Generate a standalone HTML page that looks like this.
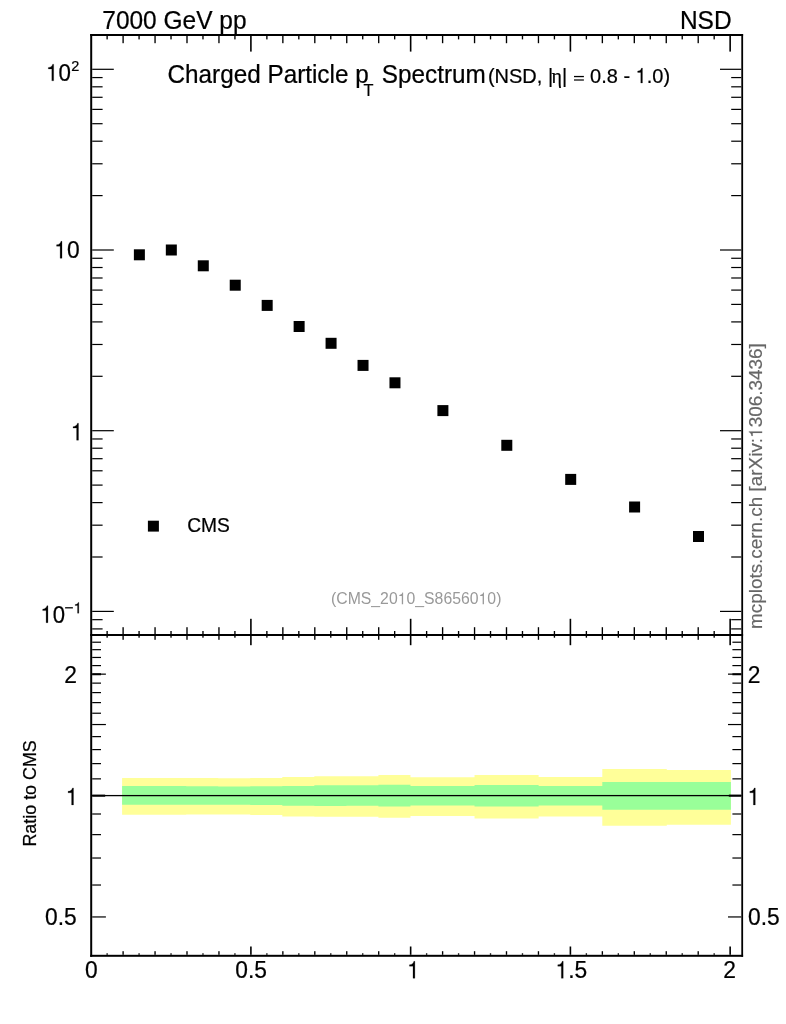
<!DOCTYPE html>
<html><head><meta charset="utf-8"><title>Charged Particle pT Spectrum</title>
<style>
html,body{margin:0;padding:0;background:#fff;}
body{width:786px;height:1024px;overflow:hidden;font-family:"Liberation Sans",sans-serif;}
svg{display:block;will-change:transform;}
svg text{font-family:"Liberation Sans",sans-serif;font-kerning:none;}
</style></head><body>
<svg width="786" height="1024" viewBox="0 0 786 1024">
<rect x="0" y="0" width="786" height="1024" fill="#ffffff"/>
<path d="M122.10,777.90 L154.14,777.90 L154.14,777.90 L186.18,777.90 L186.18,778.00 L218.22,778.00 L218.22,778.20 L250.26,778.20 L250.26,777.90 L282.30,777.90 L282.30,776.90 L314.34,776.90 L314.34,776.20 L346.38,776.20 L346.38,776.20 L378.42,776.20 L378.42,775.10 L410.46,775.10 L410.46,777.20 L474.54,777.20 L474.54,775.00 L538.62,775.00 L538.62,777.10 L602.30,777.10 L602.30,769.10 L666.78,769.10 L666.78,770.10 L730.90,770.10 L730.90,824.80 L666.78,824.80 L666.78,825.70 L602.30,825.70 L602.30,816.50 L538.62,816.50 L538.62,818.50 L474.54,818.50 L474.54,815.90 L410.46,815.90 L410.46,817.80 L378.42,817.80 L378.42,816.70 L346.38,816.70 L346.38,816.80 L314.34,816.80 L314.34,816.60 L282.30,816.60 L282.30,815.10 L250.26,815.10 L250.26,814.60 L218.22,814.60 L218.22,814.60 L186.18,814.60 L186.18,814.70 L154.14,814.70 L154.14,814.70 L122.10,814.70Z" fill="#ffff99"/>
<path d="M122.10,786.00 L154.14,786.00 L154.14,786.00 L186.18,786.00 L186.18,786.20 L218.22,786.20 L218.22,786.50 L250.26,786.50 L250.26,786.20 L282.30,786.20 L282.30,786.00 L314.34,786.00 L314.34,785.20 L346.38,785.20 L346.38,785.20 L378.42,785.20 L378.42,784.80 L410.46,784.80 L410.46,786.00 L474.54,786.00 L474.54,784.90 L538.62,784.90 L538.62,786.10 L602.30,786.10 L602.30,781.90 L666.78,781.90 L666.78,781.90 L730.90,781.90 L730.90,809.80 L666.78,809.80 L666.78,809.80 L602.30,809.80 L602.30,805.60 L538.62,805.60 L538.62,806.50 L474.54,806.50 L474.54,805.40 L410.46,805.40 L410.46,806.60 L378.42,806.60 L378.42,805.80 L346.38,805.80 L346.38,805.90 L314.34,805.90 L314.34,805.70 L282.30,805.70 L282.30,805.00 L250.26,805.00 L250.26,804.70 L218.22,804.70 L218.22,804.70 L186.18,804.70 L186.18,804.70 L154.14,804.70 L154.14,804.70 L122.10,804.70Z" fill="#99ff99"/>
<rect x="92.20" y="794.95" width="649.10" height="1.30" fill="#000"/>
<rect x="90.20" y="34.00" width="2.00" height="922.80" fill="#000"/>
<rect x="741.30" y="34.00" width="1.80" height="922.80" fill="#000"/>
<rect x="90.20" y="34.00" width="652.90" height="2.00" fill="#000"/>
<rect x="90.20" y="634.00" width="652.90" height="2.00" fill="#000"/>
<rect x="90.20" y="954.80" width="652.90" height="2.00" fill="#000"/>
<rect x="106.45" y="36.00" width="1.35" height="3.40" fill="#000"/>
<rect x="106.45" y="631.00" width="1.35" height="3.00" fill="#000"/>
<rect x="106.45" y="636.00" width="1.35" height="1.70" fill="#000"/>
<rect x="106.45" y="953.30" width="1.35" height="1.50" fill="#000"/>
<rect x="122.43" y="36.00" width="1.35" height="7.20" fill="#000"/>
<rect x="122.43" y="627.20" width="1.35" height="6.80" fill="#000"/>
<rect x="122.43" y="636.00" width="1.35" height="3.80" fill="#000"/>
<rect x="122.43" y="951.20" width="1.35" height="3.60" fill="#000"/>
<rect x="138.40" y="36.00" width="1.35" height="3.40" fill="#000"/>
<rect x="138.40" y="631.00" width="1.35" height="3.00" fill="#000"/>
<rect x="138.40" y="636.00" width="1.35" height="1.70" fill="#000"/>
<rect x="138.40" y="953.30" width="1.35" height="1.50" fill="#000"/>
<rect x="154.38" y="36.00" width="1.35" height="7.20" fill="#000"/>
<rect x="154.38" y="627.20" width="1.35" height="6.80" fill="#000"/>
<rect x="154.38" y="636.00" width="1.35" height="3.80" fill="#000"/>
<rect x="154.38" y="951.20" width="1.35" height="3.60" fill="#000"/>
<rect x="170.35" y="36.00" width="1.35" height="3.40" fill="#000"/>
<rect x="170.35" y="631.00" width="1.35" height="3.00" fill="#000"/>
<rect x="170.35" y="636.00" width="1.35" height="1.70" fill="#000"/>
<rect x="170.35" y="953.30" width="1.35" height="1.50" fill="#000"/>
<rect x="186.32" y="36.00" width="1.35" height="7.20" fill="#000"/>
<rect x="186.32" y="627.20" width="1.35" height="6.80" fill="#000"/>
<rect x="186.32" y="636.00" width="1.35" height="3.80" fill="#000"/>
<rect x="186.32" y="951.20" width="1.35" height="3.60" fill="#000"/>
<rect x="202.30" y="36.00" width="1.35" height="3.40" fill="#000"/>
<rect x="202.30" y="631.00" width="1.35" height="3.00" fill="#000"/>
<rect x="202.30" y="636.00" width="1.35" height="1.70" fill="#000"/>
<rect x="202.30" y="953.30" width="1.35" height="1.50" fill="#000"/>
<rect x="218.28" y="36.00" width="1.35" height="7.20" fill="#000"/>
<rect x="218.28" y="627.20" width="1.35" height="6.80" fill="#000"/>
<rect x="218.28" y="636.00" width="1.35" height="3.80" fill="#000"/>
<rect x="218.28" y="951.20" width="1.35" height="3.60" fill="#000"/>
<rect x="234.25" y="36.00" width="1.35" height="3.40" fill="#000"/>
<rect x="234.25" y="631.00" width="1.35" height="3.00" fill="#000"/>
<rect x="234.25" y="636.00" width="1.35" height="1.70" fill="#000"/>
<rect x="234.25" y="953.30" width="1.35" height="1.50" fill="#000"/>
<rect x="250.10" y="36.00" width="1.60" height="15.60" fill="#000"/>
<rect x="250.10" y="618.80" width="1.60" height="15.20" fill="#000"/>
<rect x="250.10" y="636.00" width="1.60" height="9.20" fill="#000"/>
<rect x="250.10" y="946.50" width="1.60" height="8.30" fill="#000"/>
<rect x="266.20" y="36.00" width="1.35" height="3.40" fill="#000"/>
<rect x="266.20" y="631.00" width="1.35" height="3.00" fill="#000"/>
<rect x="266.20" y="636.00" width="1.35" height="1.70" fill="#000"/>
<rect x="266.20" y="953.30" width="1.35" height="1.50" fill="#000"/>
<rect x="282.18" y="36.00" width="1.35" height="7.20" fill="#000"/>
<rect x="282.18" y="627.20" width="1.35" height="6.80" fill="#000"/>
<rect x="282.18" y="636.00" width="1.35" height="3.80" fill="#000"/>
<rect x="282.18" y="951.20" width="1.35" height="3.60" fill="#000"/>
<rect x="298.15" y="36.00" width="1.35" height="3.40" fill="#000"/>
<rect x="298.15" y="631.00" width="1.35" height="3.00" fill="#000"/>
<rect x="298.15" y="636.00" width="1.35" height="1.70" fill="#000"/>
<rect x="298.15" y="953.30" width="1.35" height="1.50" fill="#000"/>
<rect x="314.13" y="36.00" width="1.35" height="7.20" fill="#000"/>
<rect x="314.13" y="627.20" width="1.35" height="6.80" fill="#000"/>
<rect x="314.13" y="636.00" width="1.35" height="3.80" fill="#000"/>
<rect x="314.13" y="951.20" width="1.35" height="3.60" fill="#000"/>
<rect x="330.10" y="36.00" width="1.35" height="3.40" fill="#000"/>
<rect x="330.10" y="631.00" width="1.35" height="3.00" fill="#000"/>
<rect x="330.10" y="636.00" width="1.35" height="1.70" fill="#000"/>
<rect x="330.10" y="953.30" width="1.35" height="1.50" fill="#000"/>
<rect x="346.07" y="36.00" width="1.35" height="7.20" fill="#000"/>
<rect x="346.07" y="627.20" width="1.35" height="6.80" fill="#000"/>
<rect x="346.07" y="636.00" width="1.35" height="3.80" fill="#000"/>
<rect x="346.07" y="951.20" width="1.35" height="3.60" fill="#000"/>
<rect x="362.05" y="36.00" width="1.35" height="3.40" fill="#000"/>
<rect x="362.05" y="631.00" width="1.35" height="3.00" fill="#000"/>
<rect x="362.05" y="636.00" width="1.35" height="1.70" fill="#000"/>
<rect x="362.05" y="953.30" width="1.35" height="1.50" fill="#000"/>
<rect x="378.03" y="36.00" width="1.35" height="7.20" fill="#000"/>
<rect x="378.03" y="627.20" width="1.35" height="6.80" fill="#000"/>
<rect x="378.03" y="636.00" width="1.35" height="3.80" fill="#000"/>
<rect x="378.03" y="951.20" width="1.35" height="3.60" fill="#000"/>
<rect x="394.00" y="36.00" width="1.35" height="3.40" fill="#000"/>
<rect x="394.00" y="631.00" width="1.35" height="3.00" fill="#000"/>
<rect x="394.00" y="636.00" width="1.35" height="1.70" fill="#000"/>
<rect x="394.00" y="953.30" width="1.35" height="1.50" fill="#000"/>
<rect x="409.85" y="36.00" width="1.60" height="15.60" fill="#000"/>
<rect x="409.85" y="618.80" width="1.60" height="15.20" fill="#000"/>
<rect x="409.85" y="636.00" width="1.60" height="9.20" fill="#000"/>
<rect x="409.85" y="946.50" width="1.60" height="8.30" fill="#000"/>
<rect x="425.95" y="36.00" width="1.35" height="3.40" fill="#000"/>
<rect x="425.95" y="631.00" width="1.35" height="3.00" fill="#000"/>
<rect x="425.95" y="636.00" width="1.35" height="1.70" fill="#000"/>
<rect x="425.95" y="953.30" width="1.35" height="1.50" fill="#000"/>
<rect x="441.93" y="36.00" width="1.35" height="7.20" fill="#000"/>
<rect x="441.93" y="627.20" width="1.35" height="6.80" fill="#000"/>
<rect x="441.93" y="636.00" width="1.35" height="3.80" fill="#000"/>
<rect x="441.93" y="951.20" width="1.35" height="3.60" fill="#000"/>
<rect x="457.90" y="36.00" width="1.35" height="3.40" fill="#000"/>
<rect x="457.90" y="631.00" width="1.35" height="3.00" fill="#000"/>
<rect x="457.90" y="636.00" width="1.35" height="1.70" fill="#000"/>
<rect x="457.90" y="953.30" width="1.35" height="1.50" fill="#000"/>
<rect x="473.88" y="36.00" width="1.35" height="7.20" fill="#000"/>
<rect x="473.88" y="627.20" width="1.35" height="6.80" fill="#000"/>
<rect x="473.88" y="636.00" width="1.35" height="3.80" fill="#000"/>
<rect x="473.88" y="951.20" width="1.35" height="3.60" fill="#000"/>
<rect x="489.85" y="36.00" width="1.35" height="3.40" fill="#000"/>
<rect x="489.85" y="631.00" width="1.35" height="3.00" fill="#000"/>
<rect x="489.85" y="636.00" width="1.35" height="1.70" fill="#000"/>
<rect x="489.85" y="953.30" width="1.35" height="1.50" fill="#000"/>
<rect x="505.82" y="36.00" width="1.35" height="7.20" fill="#000"/>
<rect x="505.82" y="627.20" width="1.35" height="6.80" fill="#000"/>
<rect x="505.82" y="636.00" width="1.35" height="3.80" fill="#000"/>
<rect x="505.82" y="951.20" width="1.35" height="3.60" fill="#000"/>
<rect x="521.80" y="36.00" width="1.35" height="3.40" fill="#000"/>
<rect x="521.80" y="631.00" width="1.35" height="3.00" fill="#000"/>
<rect x="521.80" y="636.00" width="1.35" height="1.70" fill="#000"/>
<rect x="521.80" y="953.30" width="1.35" height="1.50" fill="#000"/>
<rect x="537.78" y="36.00" width="1.35" height="7.20" fill="#000"/>
<rect x="537.78" y="627.20" width="1.35" height="6.80" fill="#000"/>
<rect x="537.78" y="636.00" width="1.35" height="3.80" fill="#000"/>
<rect x="537.78" y="951.20" width="1.35" height="3.60" fill="#000"/>
<rect x="553.75" y="36.00" width="1.35" height="3.40" fill="#000"/>
<rect x="553.75" y="631.00" width="1.35" height="3.00" fill="#000"/>
<rect x="553.75" y="636.00" width="1.35" height="1.70" fill="#000"/>
<rect x="553.75" y="953.30" width="1.35" height="1.50" fill="#000"/>
<rect x="569.60" y="36.00" width="1.60" height="15.60" fill="#000"/>
<rect x="569.60" y="618.80" width="1.60" height="15.20" fill="#000"/>
<rect x="569.60" y="636.00" width="1.60" height="9.20" fill="#000"/>
<rect x="569.60" y="946.50" width="1.60" height="8.30" fill="#000"/>
<rect x="585.70" y="36.00" width="1.35" height="3.40" fill="#000"/>
<rect x="585.70" y="631.00" width="1.35" height="3.00" fill="#000"/>
<rect x="585.70" y="636.00" width="1.35" height="1.70" fill="#000"/>
<rect x="585.70" y="953.30" width="1.35" height="1.50" fill="#000"/>
<rect x="601.68" y="36.00" width="1.35" height="7.20" fill="#000"/>
<rect x="601.68" y="627.20" width="1.35" height="6.80" fill="#000"/>
<rect x="601.68" y="636.00" width="1.35" height="3.80" fill="#000"/>
<rect x="601.68" y="951.20" width="1.35" height="3.60" fill="#000"/>
<rect x="617.65" y="36.00" width="1.35" height="3.40" fill="#000"/>
<rect x="617.65" y="631.00" width="1.35" height="3.00" fill="#000"/>
<rect x="617.65" y="636.00" width="1.35" height="1.70" fill="#000"/>
<rect x="617.65" y="953.30" width="1.35" height="1.50" fill="#000"/>
<rect x="633.63" y="36.00" width="1.35" height="7.20" fill="#000"/>
<rect x="633.63" y="627.20" width="1.35" height="6.80" fill="#000"/>
<rect x="633.63" y="636.00" width="1.35" height="3.80" fill="#000"/>
<rect x="633.63" y="951.20" width="1.35" height="3.60" fill="#000"/>
<rect x="649.60" y="36.00" width="1.35" height="3.40" fill="#000"/>
<rect x="649.60" y="631.00" width="1.35" height="3.00" fill="#000"/>
<rect x="649.60" y="636.00" width="1.35" height="1.70" fill="#000"/>
<rect x="649.60" y="953.30" width="1.35" height="1.50" fill="#000"/>
<rect x="665.58" y="36.00" width="1.35" height="7.20" fill="#000"/>
<rect x="665.58" y="627.20" width="1.35" height="6.80" fill="#000"/>
<rect x="665.58" y="636.00" width="1.35" height="3.80" fill="#000"/>
<rect x="665.58" y="951.20" width="1.35" height="3.60" fill="#000"/>
<rect x="681.55" y="36.00" width="1.35" height="3.40" fill="#000"/>
<rect x="681.55" y="631.00" width="1.35" height="3.00" fill="#000"/>
<rect x="681.55" y="636.00" width="1.35" height="1.70" fill="#000"/>
<rect x="681.55" y="953.30" width="1.35" height="1.50" fill="#000"/>
<rect x="697.53" y="36.00" width="1.35" height="7.20" fill="#000"/>
<rect x="697.53" y="627.20" width="1.35" height="6.80" fill="#000"/>
<rect x="697.53" y="636.00" width="1.35" height="3.80" fill="#000"/>
<rect x="697.53" y="951.20" width="1.35" height="3.60" fill="#000"/>
<rect x="713.50" y="36.00" width="1.35" height="3.40" fill="#000"/>
<rect x="713.50" y="631.00" width="1.35" height="3.00" fill="#000"/>
<rect x="713.50" y="636.00" width="1.35" height="1.70" fill="#000"/>
<rect x="713.50" y="953.30" width="1.35" height="1.50" fill="#000"/>
<rect x="729.35" y="36.00" width="1.60" height="15.60" fill="#000"/>
<rect x="729.35" y="618.80" width="1.60" height="15.20" fill="#000"/>
<rect x="729.35" y="636.00" width="1.60" height="9.20" fill="#000"/>
<rect x="729.35" y="946.50" width="1.60" height="8.30" fill="#000"/>
<rect x="92.20" y="628.31" width="10.40" height="1.20" fill="#000"/>
<rect x="731.20" y="628.31" width="10.10" height="1.20" fill="#000"/>
<rect x="92.20" y="619.07" width="10.40" height="1.20" fill="#000"/>
<rect x="731.20" y="619.07" width="10.10" height="1.20" fill="#000"/>
<rect x="92.20" y="610.80" width="21.60" height="1.20" fill="#000"/>
<rect x="720.00" y="610.80" width="21.30" height="1.20" fill="#000"/>
<rect x="92.20" y="556.40" width="10.40" height="1.20" fill="#000"/>
<rect x="731.20" y="556.40" width="10.10" height="1.20" fill="#000"/>
<rect x="92.20" y="524.58" width="10.40" height="1.20" fill="#000"/>
<rect x="731.20" y="524.58" width="10.10" height="1.20" fill="#000"/>
<rect x="92.20" y="502.01" width="10.40" height="1.20" fill="#000"/>
<rect x="731.20" y="502.01" width="10.10" height="1.20" fill="#000"/>
<rect x="92.20" y="484.50" width="10.40" height="1.20" fill="#000"/>
<rect x="731.20" y="484.50" width="10.10" height="1.20" fill="#000"/>
<rect x="92.20" y="470.19" width="10.40" height="1.20" fill="#000"/>
<rect x="731.20" y="470.19" width="10.10" height="1.20" fill="#000"/>
<rect x="92.20" y="458.09" width="10.40" height="1.20" fill="#000"/>
<rect x="731.20" y="458.09" width="10.10" height="1.20" fill="#000"/>
<rect x="92.20" y="447.61" width="10.40" height="1.20" fill="#000"/>
<rect x="731.20" y="447.61" width="10.10" height="1.20" fill="#000"/>
<rect x="92.20" y="438.37" width="10.40" height="1.20" fill="#000"/>
<rect x="731.20" y="438.37" width="10.10" height="1.20" fill="#000"/>
<rect x="92.20" y="430.10" width="21.60" height="1.20" fill="#000"/>
<rect x="720.00" y="430.10" width="21.30" height="1.20" fill="#000"/>
<rect x="92.20" y="375.70" width="10.40" height="1.20" fill="#000"/>
<rect x="731.20" y="375.70" width="10.10" height="1.20" fill="#000"/>
<rect x="92.20" y="343.88" width="10.40" height="1.20" fill="#000"/>
<rect x="731.20" y="343.88" width="10.10" height="1.20" fill="#000"/>
<rect x="92.20" y="321.31" width="10.40" height="1.20" fill="#000"/>
<rect x="731.20" y="321.31" width="10.10" height="1.20" fill="#000"/>
<rect x="92.20" y="303.80" width="10.40" height="1.20" fill="#000"/>
<rect x="731.20" y="303.80" width="10.10" height="1.20" fill="#000"/>
<rect x="92.20" y="289.49" width="10.40" height="1.20" fill="#000"/>
<rect x="731.20" y="289.49" width="10.10" height="1.20" fill="#000"/>
<rect x="92.20" y="277.39" width="10.40" height="1.20" fill="#000"/>
<rect x="731.20" y="277.39" width="10.10" height="1.20" fill="#000"/>
<rect x="92.20" y="266.91" width="10.40" height="1.20" fill="#000"/>
<rect x="731.20" y="266.91" width="10.10" height="1.20" fill="#000"/>
<rect x="92.20" y="257.67" width="10.40" height="1.20" fill="#000"/>
<rect x="731.20" y="257.67" width="10.10" height="1.20" fill="#000"/>
<rect x="92.20" y="249.40" width="21.60" height="1.20" fill="#000"/>
<rect x="720.00" y="249.40" width="21.30" height="1.20" fill="#000"/>
<rect x="92.20" y="195.00" width="10.40" height="1.20" fill="#000"/>
<rect x="731.20" y="195.00" width="10.10" height="1.20" fill="#000"/>
<rect x="92.20" y="163.18" width="10.40" height="1.20" fill="#000"/>
<rect x="731.20" y="163.18" width="10.10" height="1.20" fill="#000"/>
<rect x="92.20" y="140.61" width="10.40" height="1.20" fill="#000"/>
<rect x="731.20" y="140.61" width="10.10" height="1.20" fill="#000"/>
<rect x="92.20" y="123.10" width="10.40" height="1.20" fill="#000"/>
<rect x="731.20" y="123.10" width="10.10" height="1.20" fill="#000"/>
<rect x="92.20" y="108.79" width="10.40" height="1.20" fill="#000"/>
<rect x="731.20" y="108.79" width="10.10" height="1.20" fill="#000"/>
<rect x="92.20" y="96.69" width="10.40" height="1.20" fill="#000"/>
<rect x="731.20" y="96.69" width="10.10" height="1.20" fill="#000"/>
<rect x="92.20" y="86.21" width="10.40" height="1.20" fill="#000"/>
<rect x="731.20" y="86.21" width="10.10" height="1.20" fill="#000"/>
<rect x="92.20" y="76.97" width="10.40" height="1.20" fill="#000"/>
<rect x="731.20" y="76.97" width="10.10" height="1.20" fill="#000"/>
<rect x="92.20" y="68.70" width="21.60" height="1.20" fill="#000"/>
<rect x="720.00" y="68.70" width="21.30" height="1.20" fill="#000"/>
<rect x="92.20" y="641.62" width="8.80" height="1.20" fill="#000"/>
<rect x="732.40" y="641.62" width="8.90" height="1.20" fill="#000"/>
<rect x="92.20" y="649.07" width="8.80" height="1.20" fill="#000"/>
<rect x="732.40" y="649.07" width="8.90" height="1.20" fill="#000"/>
<rect x="92.20" y="656.86" width="8.80" height="1.20" fill="#000"/>
<rect x="732.40" y="656.86" width="8.90" height="1.20" fill="#000"/>
<rect x="92.20" y="665.00" width="8.80" height="1.20" fill="#000"/>
<rect x="732.40" y="665.00" width="8.90" height="1.20" fill="#000"/>
<rect x="92.20" y="673.55" width="13.70" height="1.20" fill="#000"/>
<rect x="728.00" y="673.55" width="13.30" height="1.20" fill="#000"/>
<rect x="92.20" y="673.25" width="8.80" height="2.00" fill="#000"/>
<rect x="732.40" y="673.25" width="8.90" height="2.00" fill="#000"/>
<rect x="92.20" y="682.53" width="8.80" height="1.20" fill="#000"/>
<rect x="732.40" y="682.53" width="8.90" height="1.20" fill="#000"/>
<rect x="92.20" y="692.00" width="8.80" height="1.20" fill="#000"/>
<rect x="732.40" y="692.00" width="8.90" height="1.20" fill="#000"/>
<rect x="92.20" y="702.01" width="8.80" height="1.20" fill="#000"/>
<rect x="732.40" y="702.01" width="8.90" height="1.20" fill="#000"/>
<rect x="92.20" y="712.63" width="8.80" height="1.20" fill="#000"/>
<rect x="732.40" y="712.63" width="8.90" height="1.20" fill="#000"/>
<rect x="92.20" y="723.94" width="13.70" height="1.20" fill="#000"/>
<rect x="728.00" y="723.94" width="13.30" height="1.20" fill="#000"/>
<rect x="92.20" y="736.02" width="8.80" height="1.20" fill="#000"/>
<rect x="732.40" y="736.02" width="8.90" height="1.20" fill="#000"/>
<rect x="92.20" y="749.00" width="8.80" height="1.20" fill="#000"/>
<rect x="732.40" y="749.00" width="8.90" height="1.20" fill="#000"/>
<rect x="92.20" y="763.02" width="8.80" height="1.20" fill="#000"/>
<rect x="732.40" y="763.02" width="8.90" height="1.20" fill="#000"/>
<rect x="92.20" y="778.26" width="8.80" height="1.20" fill="#000"/>
<rect x="732.40" y="778.26" width="8.90" height="1.20" fill="#000"/>
<rect x="92.20" y="794.95" width="13.70" height="1.20" fill="#000"/>
<rect x="728.00" y="794.95" width="13.30" height="1.20" fill="#000"/>
<rect x="92.20" y="794.65" width="12.80" height="2.00" fill="#000"/>
<rect x="729.00" y="794.65" width="12.30" height="2.00" fill="#000"/>
<rect x="92.20" y="813.40" width="8.80" height="1.20" fill="#000"/>
<rect x="732.40" y="813.40" width="8.90" height="1.20" fill="#000"/>
<rect x="92.20" y="834.03" width="8.80" height="1.20" fill="#000"/>
<rect x="732.40" y="834.03" width="8.90" height="1.20" fill="#000"/>
<rect x="92.20" y="857.42" width="8.80" height="1.20" fill="#000"/>
<rect x="732.40" y="857.42" width="8.90" height="1.20" fill="#000"/>
<rect x="92.20" y="884.42" width="8.80" height="1.20" fill="#000"/>
<rect x="732.40" y="884.42" width="8.90" height="1.20" fill="#000"/>
<rect x="92.20" y="916.35" width="13.70" height="1.20" fill="#000"/>
<rect x="728.00" y="916.35" width="13.30" height="1.20" fill="#000"/>
<rect x="133.88" y="249.30" width="11.00" height="11.00" fill="#000"/>
<rect x="165.83" y="244.50" width="11.00" height="11.00" fill="#000"/>
<rect x="197.78" y="260.30" width="11.00" height="11.00" fill="#000"/>
<rect x="229.73" y="279.70" width="11.00" height="11.00" fill="#000"/>
<rect x="261.68" y="299.90" width="11.00" height="11.00" fill="#000"/>
<rect x="293.63" y="321.00" width="11.00" height="11.00" fill="#000"/>
<rect x="325.57" y="337.80" width="11.00" height="11.00" fill="#000"/>
<rect x="357.53" y="359.90" width="11.00" height="11.00" fill="#000"/>
<rect x="389.47" y="377.30" width="11.00" height="11.00" fill="#000"/>
<rect x="437.40" y="405.10" width="11.00" height="11.00" fill="#000"/>
<rect x="501.30" y="439.80" width="11.00" height="11.00" fill="#000"/>
<rect x="565.20" y="473.90" width="11.00" height="11.00" fill="#000"/>
<rect x="629.10" y="501.50" width="11.00" height="11.00" fill="#000"/>
<rect x="693.00" y="531.00" width="11.00" height="11.00" fill="#000"/>
<rect x="147.90" y="520.70" width="11.00" height="10.90" fill="#000"/>
<g transform="translate(102.30,29.00) scale(1.0200,1.0500)" fill="#000" stroke="#000" stroke-width="0.22" font-size="24"><text x="0.00" y="0">7000 GeV pp</text></g>
<g transform="translate(731.60,29.00) scale(1.0200,1.0500)" fill="#000" stroke="#000" stroke-width="0.22" font-size="24"><text x="-50.67" y="0">NSD</text></g>
<g transform="translate(167.50,83.40) scale(1.0000,1.0400)" fill="#000" stroke="#000" stroke-width="0.22" font-size="24.3"><text x="0.00" y="0">Charged Particle p</text></g>
<g transform="translate(363.60,95.60) scale(1.0000,1.0500)" fill="#000" stroke="#000" stroke-width="0.22" font-size="16.3"><text x="0.00" y="0">T</text></g>
<g transform="translate(381.80,83.40) scale(1.0000,1.0400)" fill="#000" stroke="#000" stroke-width="0.22" font-size="24.3"><text x="0.00" y="0">Spectrum</text></g>
<g transform="translate(487.90,83.00) scale(1.0000,1.0500)" fill="#000" stroke="#000" stroke-width="0.22" font-size="20.0"><text x="0.00" y="0">(NSD,</text></g>
<g transform="translate(548.00,83.00) scale(1.0000,1.0500)" fill="#000" stroke="#000" stroke-width="0.22" font-size="20.0"><text x="0.00" y="0">|</text></g>
<g transform="translate(551.60,83.00) scale(1.0000,1.0500)" fill="#000" stroke="#000" stroke-width="0.22" font-size="20.0" font-family="Liberation Serif"><text x="0.00" y="0" style="font-family:'Liberation Serif',serif">η</text></g>
<g transform="translate(562.10,83.00) scale(1.0000,1.0500)" fill="#000" stroke="#000" stroke-width="0.22" font-size="20.0"><text x="0.00" y="0">|</text></g>
<rect x="574.00" y="75.90" width="9.90" height="1.30" fill="#000"/>
<rect x="574.00" y="79.30" width="9.90" height="1.40" fill="#222"/>
<g transform="translate(590.04,83.00) scale(1.0000,1.0500)" fill="#000" stroke="#000" stroke-width="0.22" font-size="20.0"><text x="0.00" y="0">0.8 - </text><path transform="translate(45.58,0) scale(20.0)" stroke-width="0.0110" d="M.258,0 L.258,-.505 L.102,-.505 L.102,-.566 Q.195,-.575 .246,-.622 Q.282,-.655 .295,-.709 L.341,-.709 L.341,0 Z"/><text x="56.70" y="0">.0)</text></g>
<g transform="translate(187.20,532.40) scale(1.0000,1.0500)" fill="#000" stroke="#000" stroke-width="0.22" font-size="19.2"><text x="0.00" y="0">CMS</text></g>
<g transform="translate(331.00,604.30) scale(1.0000,1.0500)" fill="#999999" stroke="#999999" stroke-width="0" font-size="15.8"><text x="0.00" y="0">(CMS_20</text><path transform="translate(66.73,0) scale(15.8)" stroke-width="0.0000" d="M.258,0 L.258,-.505 L.102,-.505 L.102,-.566 Q.195,-.575 .246,-.622 Q.282,-.655 .295,-.709 L.341,-.709 L.341,0 Z"/><text x="75.52" y="0">0_S86560</text><path transform="translate(147.57,0) scale(15.8)" stroke-width="0.0000" d="M.258,0 L.258,-.505 L.102,-.505 L.102,-.566 Q.195,-.575 .246,-.622 Q.282,-.655 .295,-.709 L.341,-.709 L.341,0 Z"/><text x="156.36" y="0">0)</text></g>
<g transform="translate(79.60,258.30) scale(1.0000,1.0500)" fill="#000" stroke="#000" stroke-width="0.22" font-size="22.8"><path transform="translate(-25.36,0) scale(22.8)" stroke-width="0.0096" d="M.258,0 L.258,-.505 L.102,-.505 L.102,-.566 Q.195,-.575 .246,-.622 Q.282,-.655 .295,-.709 L.341,-.709 L.341,0 Z"/><text x="-12.68" y="0">0</text></g>
<g transform="translate(83.40,440.20) scale(1.0000,1.0500)" fill="#000" stroke="#000" stroke-width="0.22" font-size="22.8"><path transform="translate(-12.68,0) scale(22.8)" stroke-width="0.0096" d="M.258,0 L.258,-.505 L.102,-.505 L.102,-.566 Q.195,-.575 .246,-.622 Q.282,-.655 .295,-.709 L.341,-.709 L.341,0 Z"/></g>
<g transform="translate(70.90,80.80) scale(0.9800,1.0300)" fill="#000" stroke="#000" stroke-width="0.22" font-size="22.8"><path transform="translate(-25.36,0) scale(22.8)" stroke-width="0.0096" d="M.258,0 L.258,-.505 L.102,-.505 L.102,-.566 Q.195,-.575 .246,-.622 Q.282,-.655 .295,-.709 L.341,-.709 L.341,0 Z"/><text x="-12.68" y="0">0</text></g>
<g transform="translate(71.20,70.90) scale(1.0000,1.0500)" fill="#000" stroke="#000" stroke-width="0.22" font-size="14.5"><text x="0.00" y="0">2</text></g>
<g transform="translate(65.00,622.70) scale(0.9700,1.0500)" fill="#000" stroke="#000" stroke-width="0.22" font-size="22.8"><path transform="translate(-25.36,0) scale(22.8)" stroke-width="0.0096" d="M.258,0 L.258,-.505 L.102,-.505 L.102,-.566 Q.195,-.575 .246,-.622 Q.282,-.655 .295,-.709 L.341,-.709 L.341,0 Z"/><text x="-12.68" y="0">0</text></g>
<g transform="translate(64.60,613.20) scale(1.0600,1.0500)" fill="#000" stroke="#000" stroke-width="0.22" font-size="14.5"><text x="0.00" y="0">−</text><path transform="translate(8.47,0) scale(14.5)" stroke-width="0.0152" d="M.258,0 L.258,-.505 L.102,-.505 L.102,-.566 Q.195,-.575 .246,-.622 Q.282,-.655 .295,-.709 L.341,-.709 L.341,0 Z"/></g>
<g transform="translate(77.00,682.70) scale(1.0000,1.0500)" fill="#000" stroke="#000" stroke-width="0.22" font-size="22.8"><text x="-12.68" y="0">2</text></g>
<g transform="translate(78.40,804.90) scale(1.0000,1.0500)" fill="#000" stroke="#000" stroke-width="0.22" font-size="22.8"><path transform="translate(-12.68,0) scale(22.8)" stroke-width="0.0096" d="M.258,0 L.258,-.505 L.102,-.505 L.102,-.566 Q.195,-.575 .246,-.622 Q.282,-.655 .295,-.709 L.341,-.709 L.341,0 Z"/></g>
<g transform="translate(76.80,925.10) scale(1.0000,1.0500)" fill="#000" stroke="#000" stroke-width="0.22" font-size="22.8"><text x="-31.70" y="0">0.5</text></g>
<g transform="translate(747.70,682.70) scale(1.0000,1.0500)" fill="#000" stroke="#000" stroke-width="0.22" font-size="22.8"><text x="0.00" y="0">2</text></g>
<g transform="translate(747.50,804.90) scale(1.0000,1.0500)" fill="#000" stroke="#000" stroke-width="0.22" font-size="22.8"><path transform="translate(0.00,0) scale(22.8)" stroke-width="0.0096" d="M.258,0 L.258,-.505 L.102,-.505 L.102,-.566 Q.195,-.575 .246,-.622 Q.282,-.655 .295,-.709 L.341,-.709 L.341,0 Z"/></g>
<g transform="translate(748.10,925.00) scale(1.0000,1.0500)" fill="#000" stroke="#000" stroke-width="0.22" font-size="22.8"><text x="0.00" y="0">0.5</text></g>
<g transform="translate(91.45,978.30) scale(1.0000,1.0500)" fill="#000" stroke="#000" stroke-width="0.22" font-size="22.8"><text x="-6.34" y="0">0</text></g>
<g transform="translate(251.20,978.30) scale(1.0000,1.0500)" fill="#000" stroke="#000" stroke-width="0.22" font-size="22.8"><text x="-15.85" y="0">0.5</text></g>
<g transform="translate(413.45,978.30) scale(1.0000,1.0500)" fill="#000" stroke="#000" stroke-width="0.22" font-size="22.8"><path transform="translate(-6.34,0) scale(22.8)" stroke-width="0.0096" d="M.258,0 L.258,-.505 L.102,-.505 L.102,-.566 Q.195,-.575 .246,-.622 Q.282,-.655 .295,-.709 L.341,-.709 L.341,0 Z"/></g>
<g transform="translate(571.30,978.30) scale(1.0000,1.0500)" fill="#000" stroke="#000" stroke-width="0.22" font-size="22.8"><path transform="translate(-15.85,0) scale(22.8)" stroke-width="0.0096" d="M.258,0 L.258,-.505 L.102,-.505 L.102,-.566 Q.195,-.575 .246,-.622 Q.282,-.655 .295,-.709 L.341,-.709 L.341,0 Z"/><text x="-3.17" y="0">.5</text></g>
<g transform="translate(729.65,978.30) scale(1.0000,1.0500)" fill="#000" stroke="#000" stroke-width="0.22" font-size="22.8"><text x="-6.34" y="0">2</text></g>
<g transform="translate(36.30,846.60) rotate(-90) scale(1.0000,1.0500)" fill="#000" stroke="#000" stroke-width="0.22" font-size="17.9"><text x="0.00" y="0">Ratio to CMS</text></g>
<g transform="translate(762.10,629.00) rotate(-90) scale(1.0000,0.9850)" fill="#666666" stroke="#666666" stroke-width="0.15" font-size="18.9"><text x="0.00" y="0">mcplots.cern.ch [arXiv:</text><path transform="translate(191.16,0) scale(18.9)" stroke-width="0.0079" d="M.258,0 L.258,-.505 L.102,-.505 L.102,-.566 Q.195,-.575 .246,-.622 Q.282,-.655 .295,-.709 L.341,-.709 L.341,0 Z"/><text x="201.67" y="0">306.3436]</text></g>
</svg>
</body></html>
